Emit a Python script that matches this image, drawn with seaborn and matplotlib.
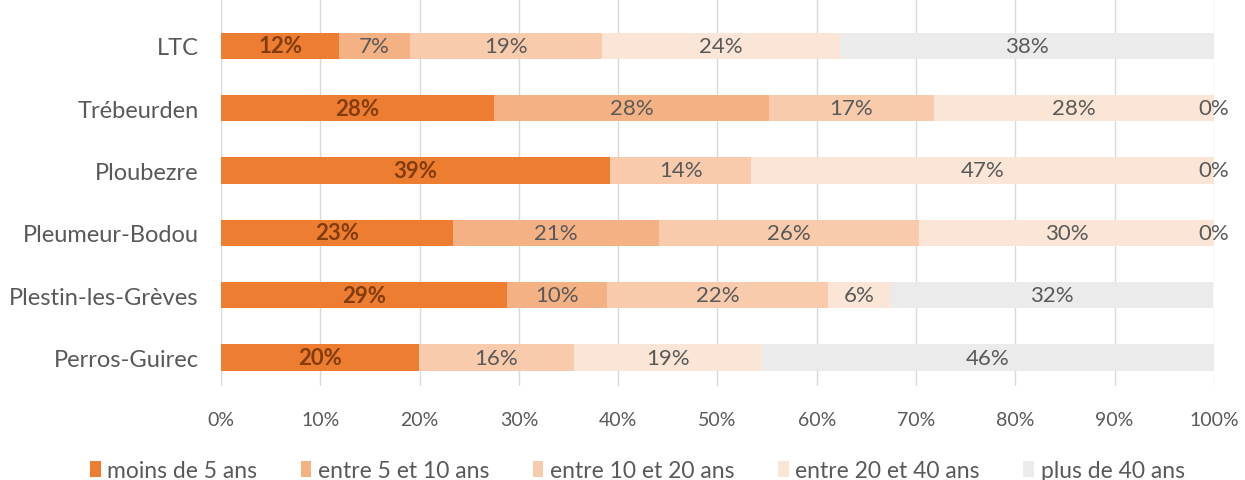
import numpy as np
import pandas as pd
import matplotlib.pyplot as plt
import seaborn as sns
from matplotlib.patches import Patch

communes = ["LTC", "Trébeurden", "Ploubezre", "Pleumeur-Bodou",
            "Plestin-les-Grèves", "Perros-Guirec"]
tranches = ["moins de 5 ans", "entre 5 et 10 ans", "entre 10 et 20 ans",
            "entre 20 et 40 ans", "plus de 40 ans"]

# parts en %, NaN = pas de valeur
moins_5 = [11.9, 27.5, 39.2, 23.4, 28.8, 19.9]
entre_5_10 = [7.1, 27.7, np.nan, 20.7, 10.1, np.nan]
entre_10_20 = [19.4, 16.6, 14.2, 26.2, 22.2, 15.7]
entre_20_40 = [23.9, 28.2, 46.6, 29.7, 6.4, 18.8]
plus_40 = [37.7, 0.0, 0.0, 0.0, 32.4, 45.6]

colors = ["#ED7D31", "#F4B183", "#F8CBAD", "#FBE5D6", "#EBEBEB"]
label_colors = ["#843C0C", "#595959", "#595959", "#595959", "#595959"]


def main():
    df = pd.DataFrame({
        "commune": communes,
        tranches[0]: moins_5,
        tranches[1]: entre_5_10,
        tranches[2]: entre_10_20,
        tranches[3]: entre_20_40,
        tranches[4]: plus_40,
    })
    cum = df[tranches].fillna(0).cumsum(axis=1)

    sns.set_style("white")
    plt.rcParams["font.family"] = ["Lato", "DejaVu Sans"]

    fig = plt.figure(figsize=(12.45, 4.81), dpi=100)
    ax = fig.add_axes([0.1775, 0.195, 0.7975, 0.805])

    # barres empilées : on dessine les cumuls du plus grand au plus petit
    for i in reversed(range(len(tranches))):
        sns.barplot(x=cum[tranches[i]], y=df["commune"], orient="h",
                    color=colors[i], width=0.42, linewidth=0,
                    saturation=1, ax=ax)

    # étiquettes de données
    for i, t in enumerate(tranches):
        for j in range(len(communes)):
            v = df[t].iloc[j]
            if pd.isna(v):
                continue
            center = cum[t].iloc[j] - v / 2
            ax.text(center, j, f"{round(v):.0f}%", ha="center", va="center",
                    fontsize=16, color=label_colors[i],
                    fontweight="bold" if i == 0 else "normal")

    ax.set_xlim(0, 100)
    ax.set_ylim(5.46, -0.75)
    ax.set_xticks(range(0, 101, 10))
    ax.set_xticklabels([f"{v}%" for v in range(0, 101, 10)])
    ax.set_xlabel("")
    ax.set_ylabel("")
    ax.tick_params(axis="x", labelsize=14, colors="#595959", length=0, pad=18)
    ax.tick_params(axis="y", labelsize=17, colors="#595959", length=0, pad=16)
    ax.grid(axis="x", color="#D9D9D9", linewidth=1)
    ax.set_axisbelow(True)
    for s in ax.spines.values():
        s.set_visible(False)

    handles = [Patch(facecolor=c, edgecolor="none") for c in colors]
    fig.legend(handles, tranches, loc="lower center", ncol=5,
               bbox_to_anchor=(0.512, -0.045), frameon=False,
               fontsize=16.5, labelcolor="#595959",
               handlelength=0.45, handleheight=0.75, handletextpad=0.3,
               columnspacing=1.9)

    fig.savefig("out.png", dpi=100)
    plt.close(fig)


if __name__ == "__main__":
    main()
